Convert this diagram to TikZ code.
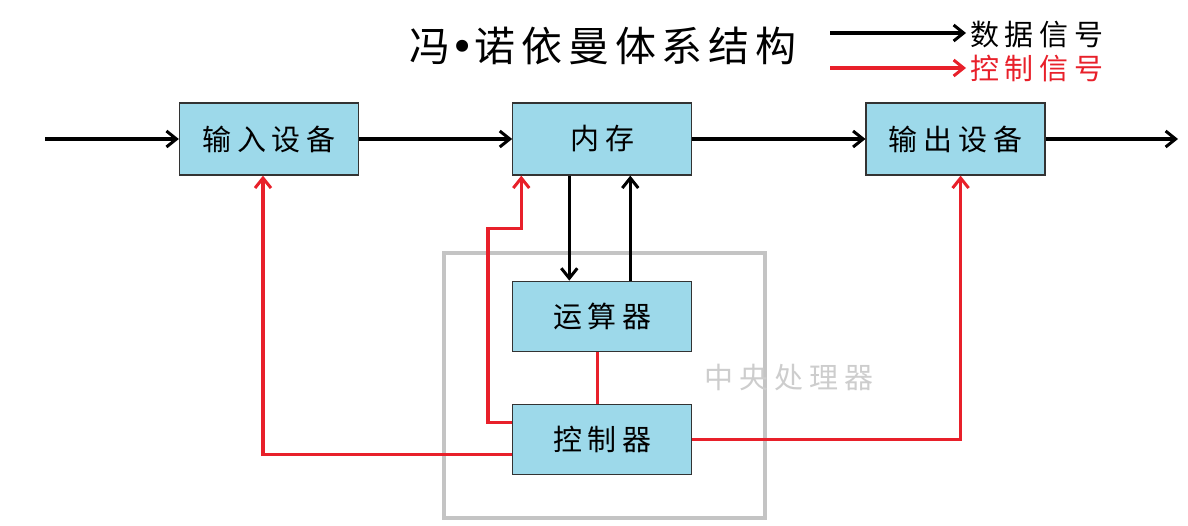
\documentclass[tikz,border=0pt]{standalone}
\usepackage{fontspec}
\usepackage{tikz}
\usetikzlibrary{arrows.meta, positioning}
\newfontfamily\cjk[LetterSpace=20]{Noto Sans CJK SC}
\newfontfamily\cjktitle[LetterSpace=14]{Noto Sans CJK SC}
\newfontfamily\bulletfont{DejaVu Sans}
\definecolor{boxblue}{HTML}{9DD9EA}
\definecolor{ctrlred}{HTML}{E8202A}
\definecolor{cpugray}{HTML}{C4C4C4}
\tikzstyle{boxnode} = [rectangle, draw=black!80, line width=1.3pt, fill=boxblue, minimum width=179pt, minimum height=72pt, inner sep=0pt, font=\cjk\fontsize{29}{29}\selectfont]
\tikzstyle{dataline} = [draw, black, line width=3.4pt, -{Straight Barb[length=10pt,width=16pt,line width=3pt]}]
\tikzstyle{ctrlline} = [draw, ctrlred, line width=3.4pt, -{Straight Barb[length=10pt,width=16pt,line width=3pt]}]
\tikzstyle{legendtext} = [anchor=west, inner sep=0pt, font=\cjk\fontsize{29}{29}\selectfont]

\begin{document}
\begin{tikzpicture}[x=1pt, y=-1pt]
	\useasboundingbox (0,0) rectangle (1188,526);
	% title and legend
	\node [inner sep=0pt, font=\cjktitle\fontsize{41}{41}\selectfont] (title) at (603,46) {冯{\bulletfont•}诺依曼体系结构};
	\coordinate (dataA) at (830,33);
	\coordinate (dataB) at (966,33);
	\coordinate (ctrlA) at (830,68);
	\coordinate (ctrlB) at (966,68);
	\draw [dataline] (dataA) -- (dataB);
	\draw [ctrlline] (ctrlA) -- (ctrlB);
	\node [legendtext] (datalbl) at (970,35) {数据信号};
	\node [legendtext, text=ctrlred] (ctrllbl) at (970,69) {控制信号};
	
	% cpu frame
	\draw [cpugray, line width=3.2pt] (444,253) rectangle (765,518);
	\node [inner sep=0pt, text=cpugray!85, font=\cjk\fontsize{29}{29}\selectfont] (cpulbl) at (789,377) {中央处理器};
	
	% units
	\node [boxnode] (in) at (269,139) {输入设备};
	\node [boxnode, right=153pt of in] (mem) {内存};
	\node [boxnode, right=173pt of mem] (out) {输出设备};
	\node [boxnode, below=105pt of mem, minimum height=70pt] (alu) {运算器};
	\node [boxnode, below=52pt of alu, minimum height=70pt] (ctrl) {控制器};
	
	% data flow
	\coordinate (src) at (45,139);
	\coordinate (sink) at (1178,139);
	\draw [dataline] (src) -- (in.west);
	\draw [dataline] (in.east) -- (mem.west);
	\draw [dataline] (mem.east) -- (out.west);
	\draw [dataline] (out.east) -- (sink);
	\draw [dataline] ([xshift=-33pt]mem.south) -- ([xshift=-33pt]alu.north);
	\draw [dataline] ([xshift=28pt]alu.north) -- ([xshift=28pt]mem.south);
	
	% control flow
	\coordinate (memin) at ([xshift=-81pt]mem.south);
	\draw [ctrlline] ([yshift=17pt]ctrl.west) -- ++(-24,0) |- ([yshift=-53pt]memin) -- (memin);
	\draw [ctrlline] ([yshift=-15pt]ctrl.west) -| ([xshift=-6pt]in.south);
	\draw [ctrlline] (ctrl.east) -| ([xshift=5pt]out.south);
	\draw [ctrlred, line width=3.4pt] ([xshift=-5pt]ctrl.north) -- ([xshift=-5pt]alu.south);
\end{tikzpicture}
\end{document}
